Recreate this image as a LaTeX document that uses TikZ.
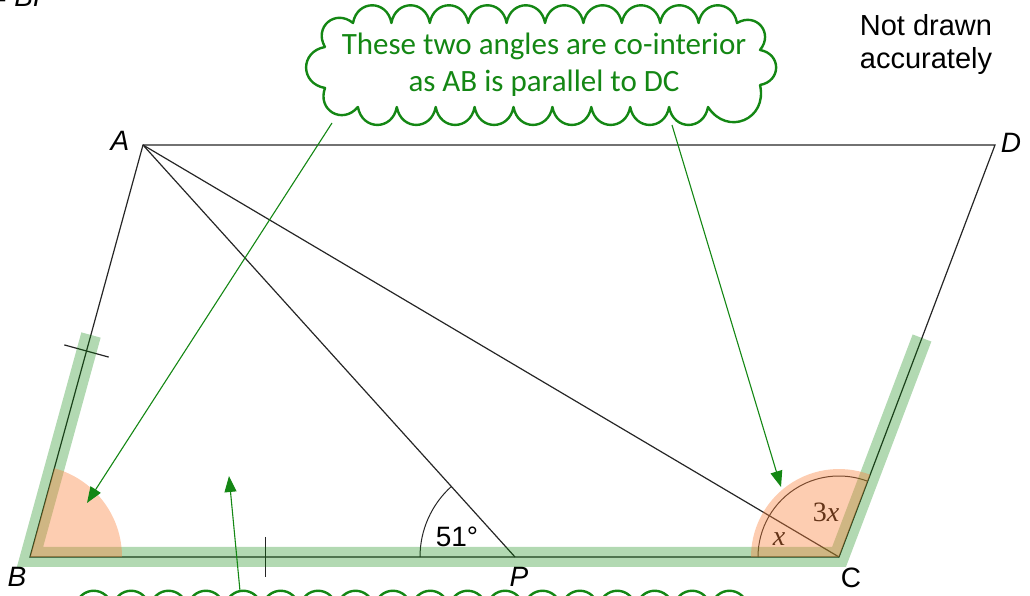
\documentclass[tikz,border=0pt]{standalone}
\usepackage{fontspec}
\setmainfont{Liberation Sans}
\newfontfamily\cloudfont{Carlito}
\newfontfamily\serifx{Liberation Serif}
\usetikzlibrary{arrows.meta,calc}
\definecolor{cgreen}{RGB}{20,135,20}
\definecolor{bandgreen}{RGB}{0,128,0}
\definecolor{peach}{RGB}{250,130,60}
\begin{document}
\begin{tikzpicture}[x=1pt,y=1pt,
  geo/.style={draw=black!85, line width=1.2pt},
  vlab/.style={font=\fontsize{28}{32}\selectfont\itshape, inner sep=0pt},
  ulab/.style={font=\fontsize{28}{32}\selectfont, inner sep=0pt},
  mlab/.style={font=\serifx\fontsize{28}{30}\selectfont, inner sep=0pt},
  cloudline/.style={draw=cgreen, line width=2.4pt, line join=round, line cap=round},
  bump/.style={bend left=80, looseness=1.6},
  cloudtext/.style={font=\cloudfont\fontsize{31}{36}\selectfont, text=cgreen, inner sep=0pt, anchor=base},
  callarrow/.style={draw=cgreen, line width=1.1pt, -{Triangle[length=16pt,width=12pt]}},
  band/.style={draw=bandgreen, draw opacity=0.3, line width=20pt, line join=miter},
  sector/.style={fill=peach, fill opacity=0.4},
]
\useasboundingbox (0,0) rectangle (1030,596);

% vertices
\coordinate (A) at (143,451);
\coordinate (D) at (995,451);
\coordinate (B) at (30,39);
\coordinate (C) at (839,39);
\coordinate (P) at (515,39);

% parallelogram and diagonals
\draw[geo] (A) -- (D) -- (C) -- (B) -- cycle;
\draw[geo] (A) -- (P);
\draw[geo] (A) -- (C);

% equal-length ticks
\coordinate (tAB) at ($(B)!0.5!(A)$);
\draw[geo] ($(tAB)!23pt!90:(A)$) -- ($(tAB)!23pt!-90:(A)$);
\coordinate (tBP) at ($(B)!0.486!(P)$);
\draw[geo] ($(tBP)+(0,20)$) -- ($(tBP)+(0,-20)$);

% angle arcs
\draw[geo, line width=1pt] ($(P)+(180:95pt)$) arc[start angle=180, end angle=132.08, radius=95pt];
\draw[geo, line width=1pt] ($(C)+(180:81pt)$) arc[start angle=180, end angle=69.26, radius=81pt];

% labels
\node[vlab] (lA) at (120,455) {A};
\node[vlab] (lD) at (1011,453) {D};
\node[vlab] (lB) at (17,19) {B};
\node[vlab] (lP) at (519,19) {P};
\node[ulab] (lC) at (851,18) {C};
\node[ulab] (l51) at (457,59) {51°};
\node[mlab, anchor=base] (lx) at (779,50) {\itshape x};
\node[mlab, anchor=base] (l3x) at (826,74) {3\itshape x};
\node[vlab, anchor=base east] (ltop) at (52,589) {\upshape=\ \itshape BP};

% not drawn accurately
\node[font=\fontsize{29}{33}\selectfont, anchor=base, inner sep=0pt] (nd1) at (926,560) {Not drawn};
\node[font=\fontsize{29}{33}\selectfont, anchor=base, inner sep=0pt] (nd2) at (926,527) {accurately};

% highlight bands
\coordinate (bA) at (91,261);
\coordinate (bD) at (922,258);
\draw[band] (bA) -- (B) -- (C) -- (bD);

% angle sectors
\fill[sector] (B) -- ++(0:92pt) arc[start angle=0, end angle=74.66, radius=92pt] -- cycle;
\fill[sector] (C) -- ++(69.26:88pt) arc[start angle=69.26, end angle=180, radius=88pt] -- cycle;

% top cloud callout
\draw[cloudline] (325,549) to[bump] (353,573)
  \foreach \i in {1,...,10} { to[bump] ({353+38.4*\i},573) }
  to[bump] (760,546) to[bump] (760,511) to[bump] (708,489)
  \foreach \i in {1,...,9} { to[bump] ({708-38.9*\i},489) }
  to[bump] (325,508) to[bump] (325,549);
\node[cloudtext] (ct1) at (544,541) {These two angles are co-interior};
\node[cloudtext] (ct2) at (544,504) {as AB is parallel to DC};

% bottom cloud callout (cut off by page edge)
\draw[cloudline] (38,-45) to[bump] (75,-12)
  \foreach \i in {-4,...,13} { to[bump] ({262+37.4*\i},-12) }
  to[bump] (770,-45);

% arrows
\coordinate (s1) at (332,473);
\coordinate (e1) at (87,93);
\coordinate (s2) at (672,471);
\coordinate (e2) at (781,109);
\coordinate (s3) at (240,5);
\coordinate (e3) at (229,120);
\draw[callarrow] (s1) -- (e1);
\draw[callarrow] (s2) -- (e2);
\draw[callarrow] (s3) -- (e3);
\end{tikzpicture}
\end{document}
